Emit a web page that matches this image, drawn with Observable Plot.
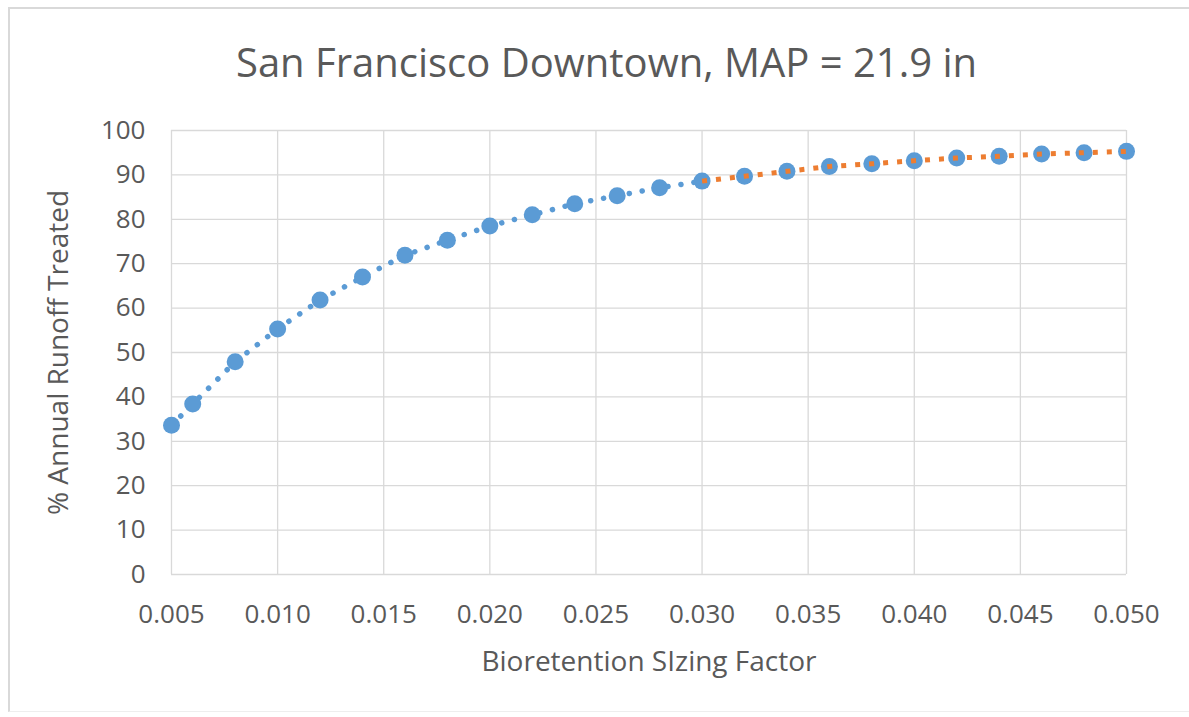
<!DOCTYPE html>
<html>
<head>
<meta charset="utf-8">
<script src="https://cdn.jsdelivr.net/npm/d3@7"></script>
<script src="https://cdn.jsdelivr.net/npm/@observablehq/plot@0.6"></script>
<style>
  html, body { margin: 0; padding: 0; background: #fff; }
  body { width: 1189px; height: 717px; position: relative; overflow: hidden; font-family: "Open Sans", sans-serif; }
  #frame { position: absolute; left: 8px; top: 7px; width: 1185px; height: 705px; border-left: 2px solid #d9d9d9; border-top: 2px solid #d9d9d9; border-bottom: 1px solid #eeeeee; box-sizing: border-box; }
  #title { position: absolute; left: 12px; width: 1189px; top: 42px; text-align: center; font-size: 40px; line-height: 1; color: #595959; }
  #chart { position: absolute; left: 0; top: 0; }
</style>
</head>
<body>
<div id="frame"></div>
<div id="chart"></div>
<div id="title">San Francisco Downtown, MAP = 21.9 in</div>
<script>
const sizingFactor = [0.005, 0.006, 0.008, 0.010, 0.012, 0.014, 0.016, 0.018, 0.020, 0.022, 0.024, 0.026,
                      0.028, 0.030, 0.032, 0.034, 0.036, 0.038, 0.040, 0.042, 0.044, 0.046, 0.048, 0.050];
const pctTreated   = [33.6, 38.4, 47.9, 55.3, 61.8, 67.0, 71.9, 75.3, 78.5, 81.0, 83.5, 85.3,
                      87.1, 88.6, 89.7, 90.8, 91.9, 92.5, 93.2, 93.8, 94.2, 94.7, 95.0, 95.3];
const xTicks = [0.005, 0.010, 0.015, 0.020, 0.025, 0.030, 0.035, 0.040, 0.045, 0.050];
const yTicks = [0, 10, 20, 30, 40, 50, 60, 70, 80, 90, 100];
const splitAt = 0.030;

const data = sizingFactor.map((x, i) => ({x, y: pctTreated[i]}));
const blueSeg = data.filter(d => d.x <= splitAt + 1e-9);
const orangeSeg = data.filter(d => d.x >= splitAt - 1e-9);

const grey = "#595959";
const chart = Plot.plot({
  width: 1189,
  height: 717,
  marginLeft: 171,
  marginRight: 63,
  marginTop: 130,
  marginBottom: 143,
  style: {fontFamily: "'Open Sans', sans-serif", color: grey, background: "transparent"},
  x: {domain: [0.005, 0.050]},
  y: {domain: [0, 100]},
  marks: [
    Plot.gridX(xTicks, {stroke: "#d9d9d9", strokeOpacity: 1, strokeWidth: 1.3}),
    Plot.gridY(yTicks, {stroke: "#d9d9d9", strokeOpacity: 1, strokeWidth: 1.3}),
    Plot.axisX({ticks: xTicks, tickFormat: d3.format(".3f"), tickSize: 0, tickPadding: 30, fontSize: 26,
                label: null}),
    Plot.axisX({ticks: [], tickSize: 0, fontSize: 28,
                label: "Bioretention SIzing Factor", labelAnchor: "center", labelOffset: 96, labelArrow: "none"}),
    Plot.axisY({ticks: yTicks, tickSize: 0, tickPadding: 26, fontSize: 26,
                label: null}),
    Plot.axisY({ticks: [], tickSize: 0, fontSize: 28,
                label: "% Annual Runoff Treated", labelAnchor: "center", labelOffset: 123, labelArrow: "none"}),
    Plot.line(blueSeg, {x: "x", y: "y", stroke: "#5b9bd5", strokeWidth: 5.5, strokeLinecap: "round", strokeDasharray: "0.1,13"}),
    Plot.dot(data, {x: "x", y: "y", r: 8.5, fill: "#5b9bd5", stroke: "none"}),
    Plot.line(orangeSeg, {x: "x", y: "y", stroke: "#ed7d31", strokeWidth: 5, strokeLinecap: "butt", strokeDasharray: "5,9"})
  ]
});
document.getElementById("chart").appendChild(chart);
</script>
</body>
</html>
